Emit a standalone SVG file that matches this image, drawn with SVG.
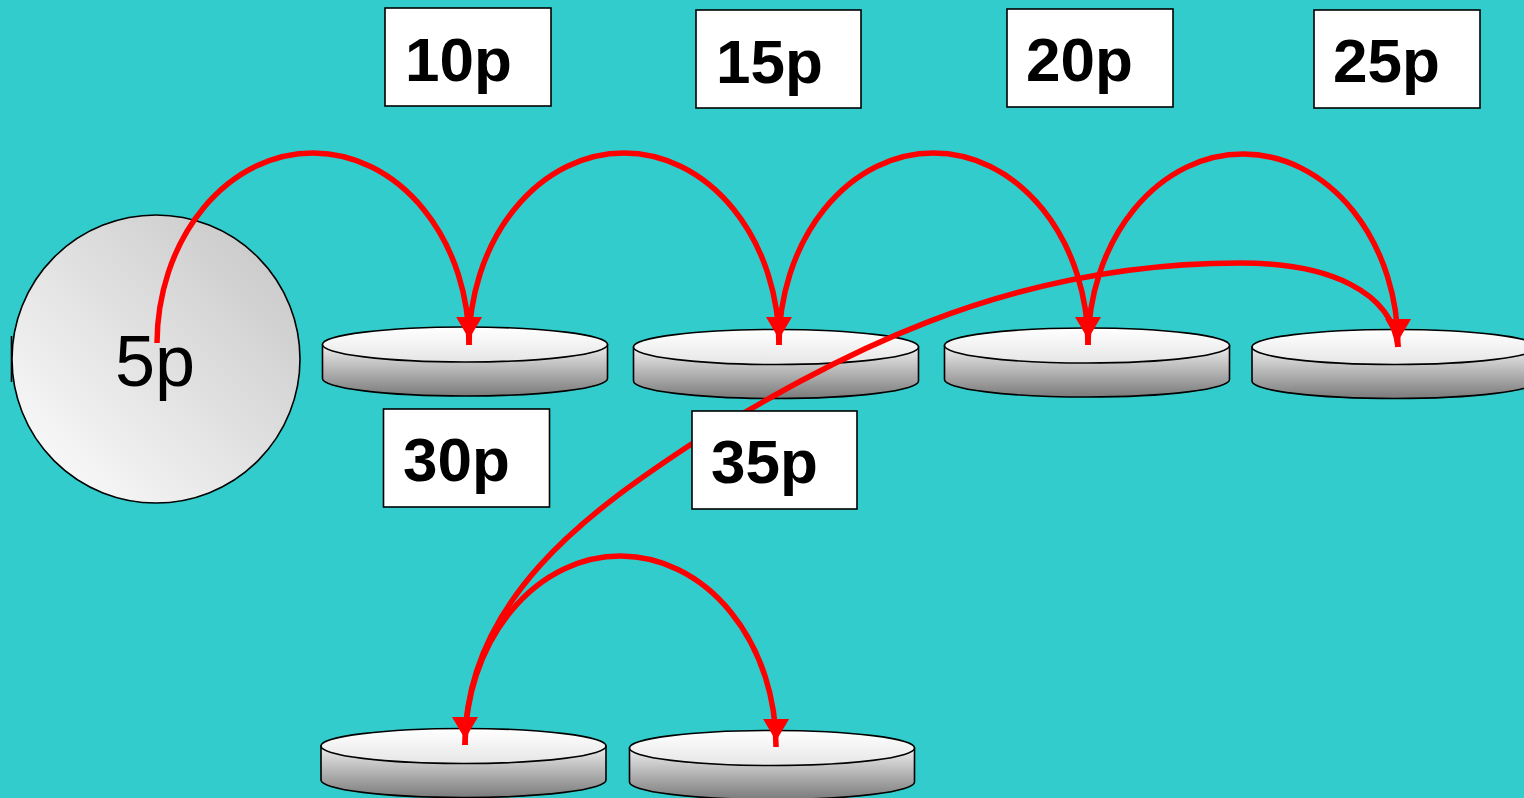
<svg xmlns="http://www.w3.org/2000/svg" width="1524" height="798" viewBox="0 0 1524 798">
<defs>
<linearGradient id="ballGrad" x1="0" y1="1" x2="1" y2="0">
<stop offset="0" stop-color="#ffffff"/>
<stop offset="1" stop-color="#c4c4c4"/>
</linearGradient>
<linearGradient id="topGrad" x1="0" y1="0" x2="0" y2="1">
<stop offset="0" stop-color="#ffffff"/>
<stop offset="1" stop-color="#e6e6e6"/>
</linearGradient>
<linearGradient id="sideGrad" x1="0" y1="0" x2="0" y2="1">
<stop offset="0" stop-color="#eeeeee"/>
<stop offset="1" stop-color="#7a7a7a"/>
</linearGradient>
<marker id="arrow" markerUnits="userSpaceOnUse" markerWidth="32" markerHeight="26" refX="28" refY="13" orient="auto" viewBox="0 0 32 26" overflow="visible">
<path d="M0,0 L22,13 L0,26 Z" fill="#ff0000"/>
</marker>
<g id="disc">
<path d="M-142.5,0 L-142.5,34 A142.5,17.5 0 0 0 142.5,34 L142.5,0 Z" fill="url(#sideGrad)" stroke="#000" stroke-width="1.6"/>
<ellipse cx="0" cy="0" rx="142.5" ry="17.5" fill="url(#topGrad)" stroke="#000" stroke-width="1.6"/>
</g>
</defs>
<style>
.box{fill:#ffffff;stroke:#000;stroke-width:1.6}
.lbl{font-family:"Liberation Sans",Arial,sans-serif;font-weight:bold;font-size:62px;fill:#000}
.arc{fill:none;stroke:#ff0000;stroke-width:5.5;marker-end:url(#arrow)}
</style>
<rect x="0" y="0" width="1524" height="798" fill="#33cccc"/>

<g id="coin5p">
<line x1="11.5" y1="336" x2="11.5" y2="382" stroke="#000" stroke-width="1.6"/>
<circle cx="156" cy="359" r="144" fill="url(#ballGrad)" stroke="#000" stroke-width="1.6"/>
<text x="115" y="386" font-family="Liberation Sans, Arial, sans-serif" font-size="72" fill="#000">5p</text>
</g>

<g id="disc1"><use href="#disc" x="465" y="344.5"/></g>
<g id="disc2"><use href="#disc" x="776" y="347"/></g>
<g id="disc3"><use href="#disc" x="1087" y="345.5"/></g>
<g id="disc4"><use href="#disc" x="1394.5" y="347"/></g>
<g id="disc5"><use href="#disc" x="463.5" y="746"/></g>
<g id="disc6"><use href="#disc" x="772" y="748"/></g>

<g id="connectors">
<path class="arc" d="M157,343 A156,191 0 0 1 469,345" stroke-width="6.5"/>
<path class="arc" d="M469,345 A155,192 0 0 1 779,345"/>
<path class="arc" d="M779,345 A154.5,192 0 0 1 1088,345"/>
<path class="arc" d="M1088,345 A155,192 0 0 1 1398,347"/>
<path class="arc" d="M465,745 A155.5,190 0 0 1 776,747"/>
<path class="arc" d="M1398,347 C1392,292 1330,263 1240,263 C1000,263 830,360 690,445 C590,511 465,600 465,745"/>
</g>

<g id="box10p"><rect class="box" x="385" y="8" width="166" height="98"/><text class="lbl" x="405" y="81">10p</text></g>
<g id="box15p"><rect class="box" x="696" y="10" width="165" height="98"/><text class="lbl" x="716" y="83">15p</text></g>
<g id="box20p"><rect class="box" x="1007" y="9" width="166" height="98"/><text class="lbl" x="1026" y="81">20p</text></g>
<g id="box25p"><rect class="box" x="1314" y="10" width="166" height="98"/><text class="lbl" x="1333" y="82">25p</text></g>
<g id="box30p"><rect class="box" x="383.5" y="409" width="166" height="98"/><text class="lbl" x="403" y="481">30p</text></g>
<g id="box35p"><rect class="box" x="692" y="411" width="165" height="98"/><text class="lbl" x="711" y="483">35p</text></g>
</svg>
